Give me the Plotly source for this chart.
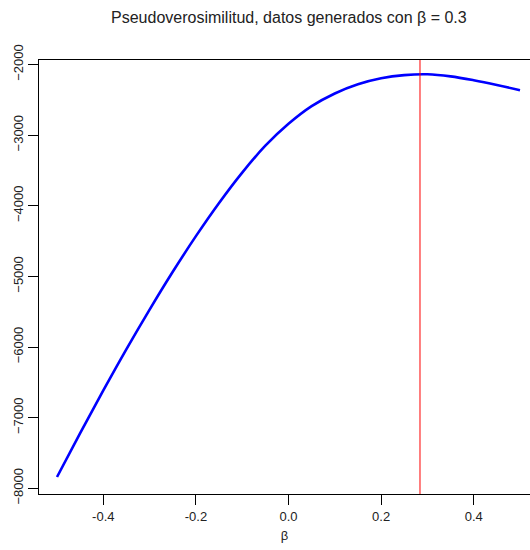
import plotly.graph_objects as go

beta = [-0.50, -0.45, -0.40, -0.35, -0.30, -0.25, -0.20, -0.15, -0.10, -0.05,
        0.00, 0.05, 0.10, 0.15, 0.20, 0.25, 0.30, 0.35, 0.40, 0.45, 0.50]
loglik = [-7840, -7220, -6615, -6030, -5470, -4935, -4430, -3960, -3530, -3150,
          -2840, -2590, -2410, -2280, -2195, -2150, -2138, -2168, -2223, -2290, -2365]
beta_hat = 0.284
x_ticks = [-0.4, -0.2, 0.0, 0.2, 0.4]
x_ticktext = ["-0.4", "-0.2", "0.0", "0.2", "0.4"]
y_ticks = [-8000, -7000, -6000, -5000, -4000, -3000, -2000]

fig = go.Figure()
fig.add_trace(go.Scatter(x=beta, y=loglik, mode="lines",
                         line=dict(color="#0000FF", width=2.6, shape="spline"),
                         showlegend=False, hoverinfo="skip"))
fig.add_shape(type="line", xref="x", yref="paper", x0=beta_hat, x1=beta_hat,
              y0=0, y1=1, line=dict(color="#FF0000", width=1))

font = "Liberation Sans, Arial, sans-serif"
fig.update_layout(
    width=530, height=550,
    margin=dict(l=39, r=0, t=59.5, b=56),
    paper_bgcolor="white", plot_bgcolor="white",
    font=dict(family=font, size=13, color="#222"),
    title=dict(text="Pseudoverosimilitud, datos generados con β = 0.3",
               x=0.545, xanchor="center", y=0.969, yanchor="middle",
               font=dict(size=16, color="#222", family=font)),
)
fig.update_xaxes(range=[-0.5389, 0.5216], tickvals=x_ticks, ticktext=x_ticktext,
                 showgrid=False, zeroline=False, showline=True, linecolor="black",
                 linewidth=1, mirror=True, ticks="outside", ticklen=10,
                 tickcolor="black", tickfont=dict(size=13, color="#222"),
                 title=dict(text="β", standoff=8, font=dict(size=13, color="#222")))
fig.update_yaxes(range=[-8080.6, -1936.4], tickvals=y_ticks, tickangle=-90,
                 showgrid=False, zeroline=False, showline=True, linecolor="black",
                 linewidth=1, ticks="outside", ticklen=10, tickcolor="black",
                 tickfont=dict(size=13, color="#222"))

fig.write_html("out.html")
